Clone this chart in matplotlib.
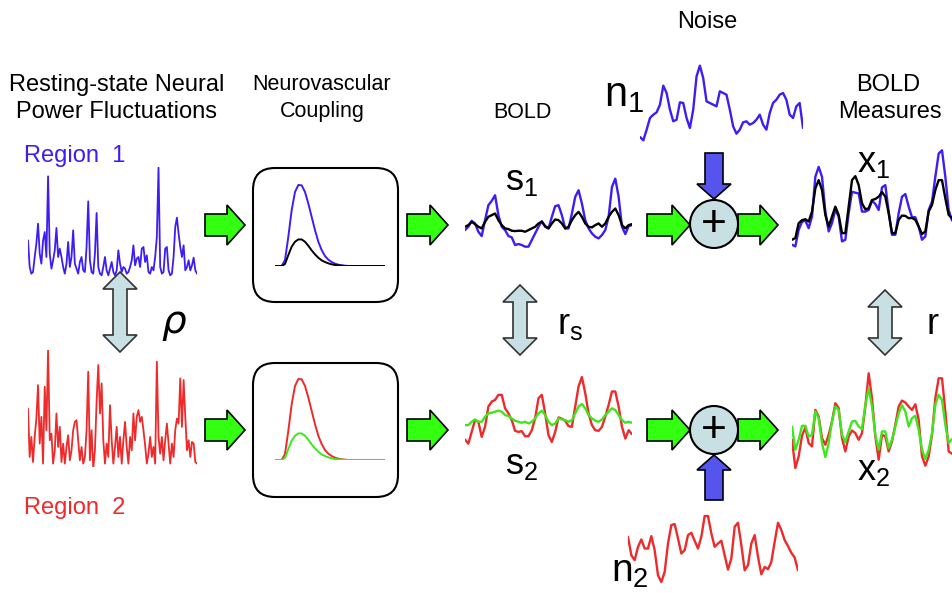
import numpy as np
import matplotlib.pyplot as plt
from matplotlib.patches import Polygon, FancyBboxPatch, Circle

W, H = 952, 593

# ---- signal values (heights, arbitrary units) ----
region1 = [110, 30, 10, 15, 60, 100, 160, 70, 40, 110, 135, 60, 302, 70, 25, 50, 80, 147, 60, 85,
           60, 30, 10, 40, 105, 30, 60, 140, 40, 25, 10, 45, 60, 20, 15, 90, 227, 50, 15, 10,
           70, 192, 30, 10, 5, 30, 60, 20, 5, 25, 45, 15, 5, 20, 80, 40, 15, 30, 25, 10,
           15, 30, 50, 95, 35, 55, 60, 30, 85, 90, 45, 65, 15, 10, 30, 20, 60, 120, 328, 30,
           10, 15, 85, 90, 20, 5, 10, 60, 150, 178, 130, 90, 60, 95, 20, 30, 50, 20, 35, 58,
           20, 10]
region2 = [175, 30, 90, 15, 90, 145, 245, 70, 150, 10, 240, 110, 350, 80, 100, 10, 50, 160, 60, 120,
           15, 70, 10, 60, 95, 20, 50, 110, 135, 140, 80, 20, 60, 10, 30, 110, 285, 20, 110, -5,
           50, 195, 305, 160, 250, 80, 10, 70, 30, 185, 80, 10, 60, 120, 30, 90, 10, 80, 135, 60,
           10, 90, 50, 160, 80, 150, 170, 135, 150, 110, 65, 10, 40, 90, 30, 60, 10, 315, 90, 40,
           90, 20, 80, 130, 70, 10, 70, 30, 110, 145, 130, 265, 120, 260, 150, 50, 80, 30, 75, 70,
           15, 10]

hrf_strong = [0, 0, 0, 18, 88, 168, 223, 244, 243, 223, 188, 148, 108, 73, 48, 30, 19, 12, 7, 4,
              2, 1, 0, 0, 0, 0, 0, 0, 0, 0, 0, 0, 0, 0]
hrf_weak = [0, 0, 0, 6, 33, 58, 73, 80, 80, 73, 61, 47, 35, 25, 17, 12, 8, 5, 3, 2,
            1, 0, 0, 0, 0, 0, 0, 0, 0, 0, 0, 0, 0, 0]

s1_blue = [60, 70, 88, 80, 55, 42, 90, 135, 148, 165, 105, 70, 60, 42, 38, 15, 18, 15, 10, 10,
           30, 50, 70, 87, 70, 65, 100, 132, 135, 105, 65, 65, 110, 160, 180, 140, 90, 65, 50, 40,
           35, 45, 60, 100, 190, 215, 160, 70, 48, 72, 75]
s1_black = [70, 75, 85, 78, 70, 65, 85, 100, 105, 110, 90, 75, 65, 63, 58, 57, 58, 58, 55, 60,
            65, 70, 80, 85, 72, 65, 80, 92, 90, 80, 65, 70, 90, 105, 115, 100, 80, 70, 68, 75,
            80, 70, 80, 100, 115, 125, 105, 75, 65, 75, 78]
s2_red = [22, 10, 45, 80, 75, 30, 60, 120, 135, 140, 155, 155, 115, 100, 80, 48, 45, 47, 32, 32,
          50, 85, 145, 155, 100, 35, 15, 45, 88, 84, 78, 62, 60, 120, 180, 208, 160, 100, 65, 50,
          48, 60, 90, 125, 165, 165, 120, 60, 25, 50, 38]
s2_green = [65, 65, 75, 82, 75, 75, 90, 100, 102, 105, 108, 105, 95, 92, 85, 78, 75, 72, 75, 70,
            75, 85, 100, 108, 95, 75, 65, 70, 85, 82, 80, 75, 80, 100, 120, 128, 115, 95, 85, 78,
            75, 82, 95, 105, 115, 110, 95, 80, 72, 75, 72]

n1 = [18, 8, 40, 75, 85, 92, 115, 172, 150, 100, 65, 70, 122, 120, 75, 45, 100, 200, 232, 195,
      125, 120, 115, 110, 155, 150, 145, 100, 50, 28, 40, 62, 65, 55, 60, 70, 85, 55, 40, 90,
      120, 130, 145, 150, 130, 85, 75, 110, 120, 45]
n2 = [150, 95, 80, 120, 142, 115, 115, 152, 110, 35, 15, 45, 130, 185, 188, 145, 100, 110, 155, 162,
      138, 115, 150, 212, 212, 160, 120, 130, 138, 95, 52, 85, 180, 192, 125, 50, 65, 130, 155, 90,
      38, 60, 53, 75, 135, 192, 170, 140, 122, 102, 88, 50]

x1_blue = [25, 20, 70, 94, 98, 75, 110, 230, 260, 230, 125, 65, 90, 130, 110, 35, 40, 120, 185, 182,
           180, 125, 125, 130, 158, 148, 130, 198, 205, 125, 55, 55, 120, 170, 178, 140, 108, 108, 80, 40,
           50, 130, 155, 230, 300, 310, 230, 130, 98]
x1_black = [40, 45, 90, 99, 102, 95, 125, 195, 220, 190, 115, 80, 110, 140, 115, 60, 60, 140, 220, 232,
            205, 150, 132, 135, 160, 163, 170, 184, 170, 120, 60, 60, 100, 113, 112, 105, 106, 100, 80, 57,
            65, 125, 145, 190, 220, 220, 165, 115, 105]
x2_red = [100, 15, 50, 112, 137, 90, 80, 190, 170, 105, 85, 115, 155, 210, 195, 105, 65, 110, 128, 120,
          100, 120, 200, 300, 225, 110, 40, 115, 110, 65, 95, 145, 200, 218, 212, 200, 190, 207, 160, 50,
          22, 50, 115, 225, 285, 285, 185, 65, 58]
x2_green = [140, 70, 100, 142, 142, 110, 115, 185, 165, 90, 48, 90, 155, 200, 190, 115, 93, 125, 155, 157,
            140, 132, 205, 255, 200, 115, 70, 125, 125, 75, 100, 140, 180, 204, 185, 140, 165, 172, 130, 70,
            42, 70, 120, 205, 235, 220, 145, 90, 102]

# colours
BLUE = '#3d1ef2'
RED = '#ee2a2a'
GREEN = '#3fe61e'
ARROW_GREEN = '#33ff11'
ARROW_BLUE = '#5555ee'
PALE = '#c8e0e4'

plt.rcParams['font.family'] = ['Liberation Sans', 'DejaVu Sans']

fig = plt.figure(figsize=(W / 100, H / 100), dpi=100)
ax = fig.add_axes([0, 0, 1, 1])
ax.set_xlim(0, W)
ax.set_ylim(H, 0)
ax.axis('off')


def trace_axes(x0, x1, y0, y1, ylim):
    # small axes placed in pixel coordinates of the page
    a = fig.add_axes([x0 / W, 1 - y1 / H, (x1 - x0) / W, (y1 - y0) / H])
    a.set_ylim(*ylim)
    a.axis('off')
    a.patch.set_alpha(0)
    a.set_zorder(5)
    return a


def draw(a, vals, color, lw=1.7):
    a.plot(np.arange(len(vals)), vals, color=color, lw=lw,
           solid_joinstyle='round', solid_capstyle='round')
    a.set_xlim(0, len(vals) - 1)


def right_arrow(x0, x1, yc, fc=ARROW_GREEN):
    sh, hh, hl = 11, 20, 18
    pts = [(x0, yc - sh), (x1 - hl, yc - sh), (x1 - hl, yc - hh), (x1, yc),
           (x1 - hl, yc + hh), (x1 - hl, yc + sh), (x0, yc + sh)]
    ax.add_patch(Polygon(pts, closed=True, fc=fc, ec='black', lw=1.2, zorder=3))


def vert_arrow(xc, y0, y1, fc=ARROW_BLUE):
    # arrow from y0 (tail) to y1 (tip)
    sw, hw, hl = 9, 17, 15
    d = 1 if y1 > y0 else -1
    yh = y1 - d * hl
    pts = [(xc - sw, y0), (xc - sw, yh), (xc - hw, yh), (xc, y1),
           (xc + hw, yh), (xc + sw, yh), (xc + sw, y0)]
    ax.add_patch(Polygon(pts, closed=True, fc=fc, ec='black', lw=1.2, zorder=3))


def double_arrow(xc, y0, y1):
    sw, hw, hl = 7, 17, 17
    pts = [(xc, y0), (xc + hw, y0 + hl), (xc + sw, y0 + hl), (xc + sw, y1 - hl),
           (xc + hw, y1 - hl), (xc, y1), (xc - hw, y1 - hl), (xc - sw, y1 - hl),
           (xc - sw, y0 + hl), (xc - hw, y0 + hl)]
    ax.add_patch(Polygon(pts, closed=True, fc=PALE, ec='#333333', lw=1.2, zorder=3))


# ---- neural power fluctuations ----
a = trace_axes(28, 197, 167, 277, (0, 330))
draw(a, region1, BLUE, 1.3)
a = trace_axes(28, 197, 350, 467, (0, 350))
draw(a, region2, RED, 1.3)

# ---- HRF boxes ----
for y0 in (168, 363):
    ax.add_patch(FancyBboxPatch((253, y0), 145, 134,
                                boxstyle='round,pad=0,rounding_size=22',
                                fc='white', ec='black', lw=1.5, zorder=2))
a = trace_axes(275, 385, 183, 266, (0, 250))
draw(a, hrf_strong, BLUE, 1.4)
draw(a, hrf_weak, 'black', 1.4)
a = trace_axes(275, 385, 377, 460, (0, 250))
draw(a, hrf_strong, RED, 1.4)
draw(a, hrf_weak, GREEN, 1.4)

# ---- BOLD ----
a = trace_axes(465, 632, 177, 250, (0, 220))
draw(a, s1_blue, BLUE)
draw(a, s1_black, 'black')
a = trace_axes(465, 632, 373, 447, (0, 220))
draw(a, s2_red, RED)
draw(a, s2_green, GREEN)

# ---- noise ----
a = trace_axes(640, 803, 63, 143, (0, 240))
draw(a, n1, BLUE)
a = trace_axes(628, 798, 510, 587, (0, 230))
draw(a, n2, RED)

# ---- measures ----
a = trace_axes(792, 952, 147, 253, (0, 320))
draw(a, x1_blue, BLUE)
draw(a, x1_black, 'black')
a = trace_axes(792, 952, 370, 473, (0, 310))
draw(a, x2_red, RED)
draw(a, x2_green, GREEN)

# ---- arrows ----
for yc in (225, 430):
    right_arrow(205, 245, yc)
    right_arrow(407, 448, yc)
    right_arrow(647, 690, yc)
    right_arrow(738, 778, yc)
vert_arrow(714, 153, 199)
vert_arrow(714, 500, 455)
for yc in (224, 430):
    ax.add_patch(Circle((714, yc), 24, fc=PALE, ec='black', lw=1.5, zorder=4))
    ax.text(714, yc + 1, '+', fontsize=32, ha='center', va='center', zorder=5)

double_arrow(120, 272, 352)
double_arrow(520, 285, 355)
double_arrow(885, 290, 355)

# ---- text ----
tkw = dict(fontsize=17, ha='center', va='center')
ax.text(117, 85, 'Resting-state Neural', **tkw)
ax.text(117, 112, 'Power Fluctuations', **tkw)
ax.text(322, 85, 'Neurovascular', fontsize=15.5, ha='center', va='center')
ax.text(322, 112, 'Coupling', fontsize=15.5, ha='center', va='center')
ax.text(522, 112, 'BOLD', fontsize=15.5, ha='center', va='center')
ax.text(707, 22, 'Noise', **tkw)
ax.text(888, 85, 'BOLD', **tkw)
ax.text(890, 112, 'Measures', **tkw)
ax.text(24, 156, 'Region  1', fontsize=17, color=BLUE, ha='left', va='center')
ax.text(24, 508, 'Region  2', fontsize=17, color=RED, ha='left', va='center')

lkw = dict(fontsize=26, ha='center', va='center')
ax.text(522, 180, r'$\mathregular{s_1}$', **lkw)
ax.text(522, 465, r'$\mathregular{s_2}$', **lkw)
ax.text(624, 95, r'$\mathregular{n_1}$', fontsize=30, ha='center', va='center')
ax.text(630, 572, r'$\mathregular{n_2}$', fontsize=28, ha='center', va='center')
ax.text(874, 162, r'$\mathregular{x_1}$', **lkw)
ax.text(874, 470, r'$\mathregular{x_2}$', **lkw)
ax.text(174, 325, r'$\rho$', fontsize=28, ha='center', va='center')
ax.text(570, 325, r'$\mathregular{r_s}$', **lkw)
ax.text(933, 325, 'r', **lkw)

fig.savefig('out.png', dpi=100)
